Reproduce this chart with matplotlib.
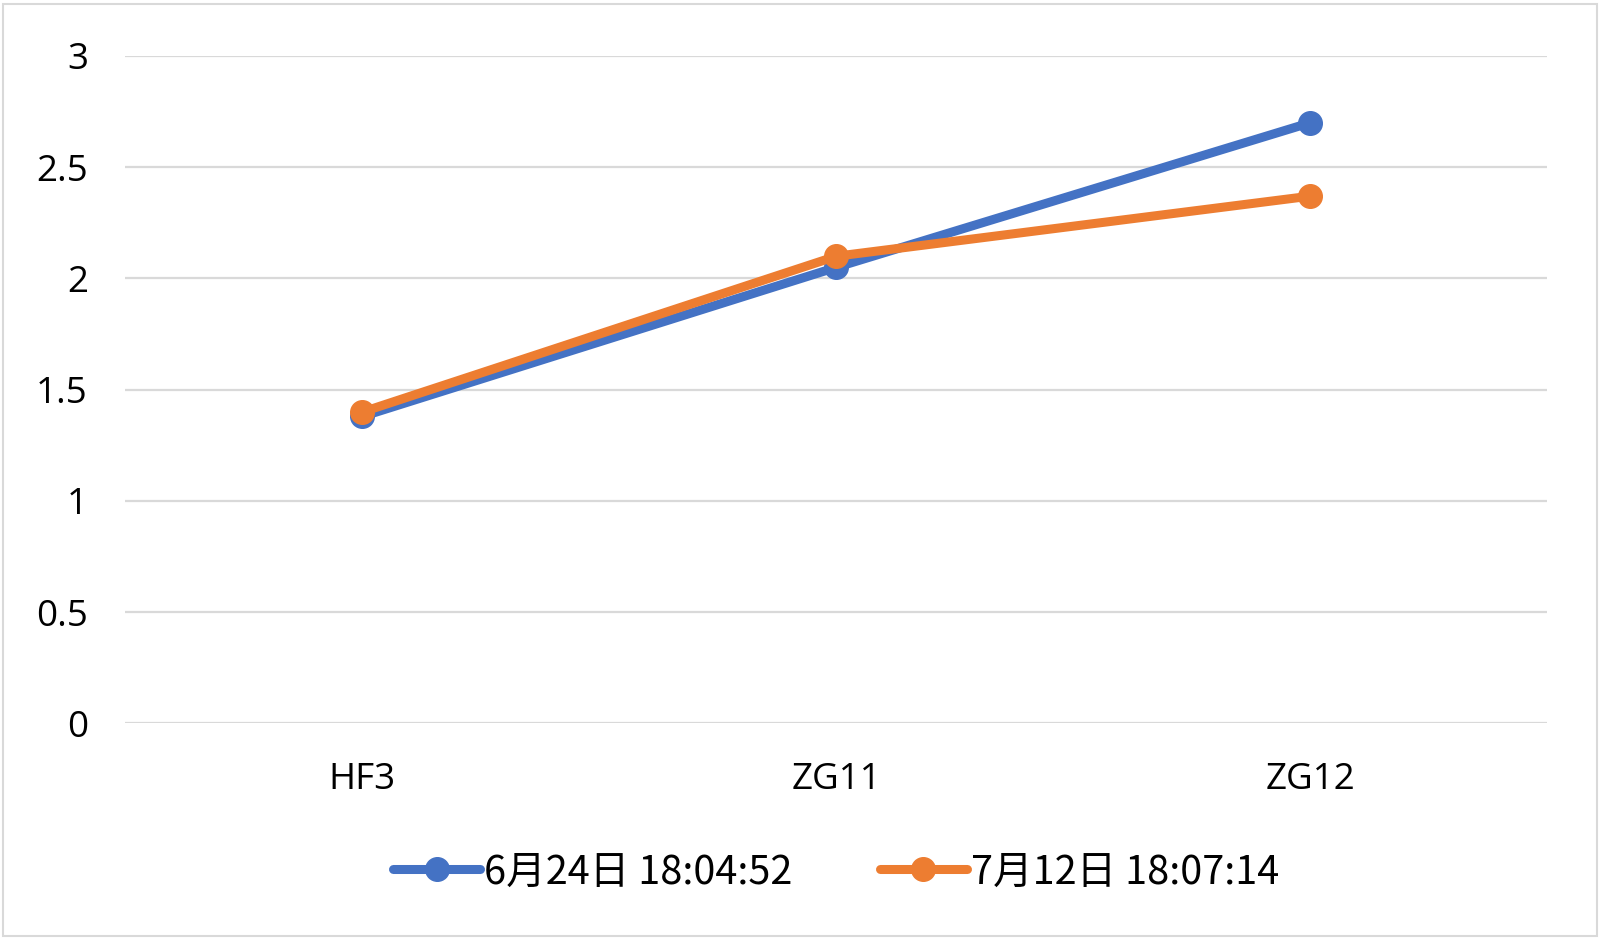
import matplotlib
matplotlib.use("Agg")
import matplotlib.pyplot as plt
from matplotlib.patches import Rectangle

plt.rcParams['font.family'] = ['Open Sans', 'Noto Sans CJK SC', 'DejaVu Sans']

categories = ["HF3", "ZG11", "ZG12"]
series_names = ["6月24日 18:04:52", "7月12日 18:07:14"]
series1 = [1.38, 2.05, 2.70]
series2 = [1.40, 2.10, 2.37]
yticks = [0, 0.5, 1, 1.5, 2, 2.5, 3]
ytick_labels = ["0", "0.5", "1", "1.5", "2", "2.5", "3"]

colors = ["#4472C4", "#ED7D31"]

fig = plt.figure(figsize=(16, 9.39), dpi=100)
ax = fig.add_axes([0.0784, 0.2295, 0.8886, 0.7109])

x = list(range(len(categories)))
for vals, name, c in zip([series1, series2], series_names, colors):
    ax.plot(x, vals, color=c, lw=6.5, marker='o', markersize=17,
            solid_capstyle='round', label=name, zorder=3)

ax.set_xlim(-0.5, len(categories) - 0.5)
ax.set_ylim(0, 3)
ax.set_yticks(yticks)
ax.set_yticklabels(ytick_labels)
ax.set_xticks(x)
ax.set_xticklabels(categories)
ax.grid(axis='y', color='#d9d9d9', lw=1.6, zorder=0)
ax.tick_params(axis='both', length=0, labelsize=26.5, colors='black')
ax.tick_params(axis='y', pad=27)
ax.tick_params(axis='x', pad=28)
for s in ax.spines.values():
    s.set_visible(False)

leg = fig.legend(loc='center', bbox_to_anchor=(0.5225, 0.071), ncol=2,
                 frameon=False, handlelength=2.2,
                 handletextpad=0.1, columnspacing=2.2,
                 prop={'family': ['Noto Sans CJK SC', 'DejaVu Sans'], 'size': 28.5})

fig.patches.append(Rectangle((0.002, 0.003), 0.996, 0.993, transform=fig.transFigure,
                             fill=False, edgecolor='#d9d9d9', lw=1.5))

fig.savefig("out.png", dpi=100, facecolor='white')
